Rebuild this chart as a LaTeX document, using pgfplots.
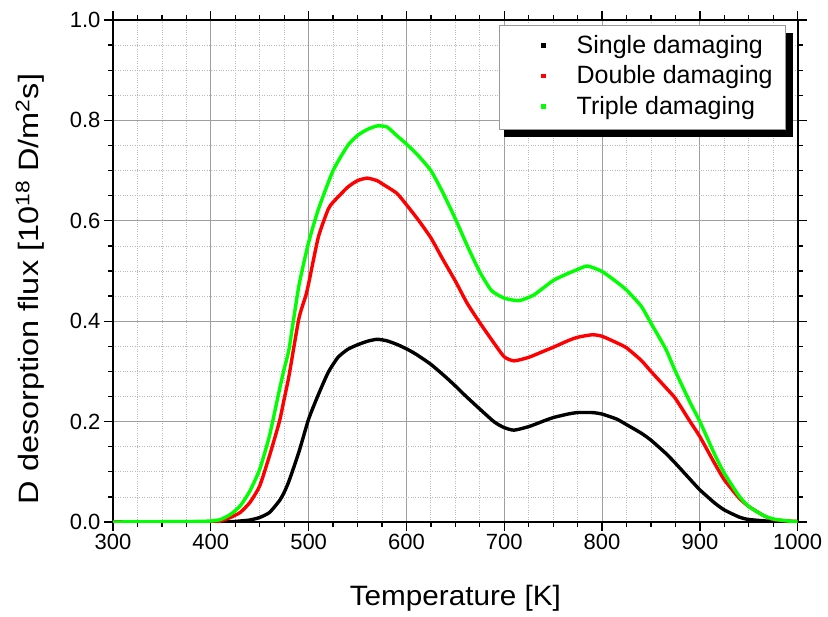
\documentclass[border=0pt]{standalone}
\usepackage{fontspec}
\setmainfont{Liberation Sans}
\newfontfamily\ylabfont[FakeStretch=1.16]{Liberation Sans}
\newfontfamily\xlabfont[FakeStretch=1.06]{Liberation Sans}
\usepackage{pgfplots}
\pgfplotsset{compat=1.18}

\pgfplotstableread{
x y
300 0
350 0
400 0
420 0.0005
430 0.002
440 0.004
450 0.009
460 0.019
470 0.042
475 0.059
480 0.082
490 0.139
500 0.205
510 0.254
520 0.298
530 0.328
540 0.344
550 0.353
560 0.360
570 0.364
580 0.361
590 0.354
600 0.345
610 0.334
625 0.314
640 0.289
650 0.271
660 0.252
675 0.225
690 0.199
700 0.188
710 0.183
725 0.190
740 0.201
750 0.208
765 0.215
775 0.218
790 0.218
800 0.215
815 0.205
825 0.194
840 0.177
850 0.163
865 0.137
875 0.117
890 0.085
900 0.064
915 0.038
925 0.024
940 0.010
950 0.005
975 0.001
1000 0
}\single

\pgfplotstableread{
x y
300 0
400 0
410 0.002
420 0.009
430 0.019
440 0.039
450 0.072
460 0.132
470 0.199
475 0.245
480 0.292
490 0.405
497 0.450
500 0.475
510 0.568
520 0.623
525 0.637
540 0.667
550 0.680
560 0.685
570 0.680
575 0.674
590 0.655
600 0.632
612 0.602
625 0.566
637 0.524
650 0.480
662 0.436
675 0.397
690 0.355
700 0.329
710 0.321
725 0.328
740 0.340
750 0.348
765 0.361
775 0.368
790 0.373
800 0.370
815 0.357
825 0.347
840 0.322
850 0.300
865 0.268
875 0.246
890 0.200
900 0.170
915 0.117
925 0.084
940 0.048
950 0.031
965 0.013
975 0.005
990 0.002
1000 0.001
}\double

\pgfplotstableread{
x y
300 0
380 0.001
400 0.002
410 0.005
420 0.015
430 0.032
440 0.062
450 0.105
460 0.172
470 0.262
475 0.305
480 0.345
490 0.470
500 0.557
510 0.623
525 0.700
540 0.750
550 0.770
560 0.782
570 0.789
580 0.787
590 0.770
600 0.753
612 0.730
625 0.700
637 0.657
650 0.604
662 0.551
675 0.498
687 0.461
700 0.446
715 0.441
730 0.452
750 0.481
765 0.495
775 0.503
785 0.510
800 0.499
815 0.478
825 0.462
840 0.430
850 0.396
865 0.345
875 0.300
890 0.238
900 0.200
915 0.135
925 0.097
940 0.052
950 0.031
965 0.013
975 0.006
990 0.002
1000 0.001
}\triple

\definecolor{pgreen}{RGB}{0,255,0}
\definecolor{pred}{RGB}{255,0,0}

\begin{document}
\begin{tikzpicture}
\begin{axis}[
  scale only axis,
  width=684.7pt, height=502pt,
  xmin=300, xmax=1000, ymin=0, ymax=1,
  xtick={300,400,...,1000},
  ytick={0,0.2,0.4,0.6,0.8,1.0},
  minor x tick num=3, minor y tick num=3,
  tick align=outside,
  xtick pos=both, ytick pos=both,
  xticklabel pos=lower, yticklabel pos=left,
  major tick length=9pt, minor tick length=5pt,
  every tick/.style={black, line width=1.3pt},
  axis line style={line width=1.6pt},
  grid=both,
  major grid style={gray!75, line width=0.9pt},
  minor grid style={gray!55, dotted, line width=0.8pt},
  /pgf/number format/assume math mode=true,
  ticklabel style={font=\fontsize{22}{26}\selectfont},
  yticklabel style={/pgf/number format/.cd, fixed, fixed zerofill, precision=1},
  xticklabel style={/pgf/number format/1000 sep={}},
  xlabel={Temperature [K]},
  ylabel={D desorption flux [10\textsuperscript{18} D/m\textsuperscript{2}s]},
  xlabel style={font=\xlabfont\fontsize{28}{32}\selectfont, at={(axis description cs:0.5,0)}, anchor=base, yshift=-83pt},
  ylabel style={font=\ylabfont\fontsize{28}{32}\selectfont, at={(axis description cs:0,0.464)}, anchor=center, yshift=83pt},
  legend cell align=left,
  legend style={at={(0.983,0.99)}, anchor=north east, draw=gray!80, line width=0.8pt, fill=white,
    font=\fontsize{25}{30}\selectfont,
    inner xsep=10pt, inner ysep=6pt,
    nodes={inner xsep=3pt, inner ysep=3.75pt, text height=18pt, text depth=5pt}},
  legend image code/.code={\path[draw=none, fill=none] (0pt,-0.1pt) rectangle (64pt,0.1pt); \fill[#1, draw=none] (31.8pt,-1.2pt) rectangle (36.2pt,3.2pt);},
]
\fill[black] (rel axis cs:0.5711,0.7669) rectangle (rel axis cs:0.9931,0.9741);
\addplot[black, line width=3.4pt, smooth, tension=0.35] table {\single};
\addlegendentry{Single damaging}
\addplot[pred, line width=3.4pt, smooth, tension=0.35] table {\double};
\addlegendentry{Double damaging}
\addplot[pgreen, line width=3.4pt, smooth, tension=0.35] table {\triple};
\addlegendentry{Triple damaging}
\end{axis}
\path ([shift={(-113pt,-94pt)}]current axis.south west) rectangle ([shift={(30.3pt,20pt)}]current axis.north east);
\end{tikzpicture}
\end{document}
